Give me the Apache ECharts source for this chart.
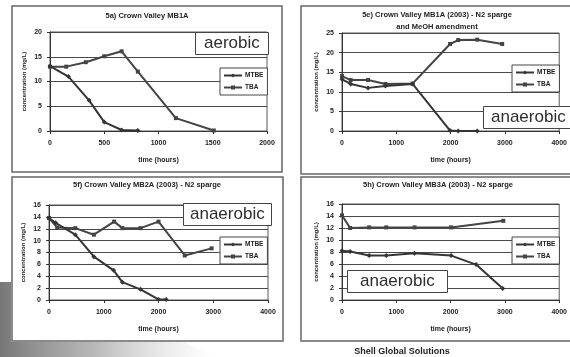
<!DOCTYPE html>
<html>
<head>
<meta charset="utf-8">
<script src="https://cdn.jsdelivr.net/npm/echarts@6/dist/echarts.min.js"></script>
<style>
  html, body { margin: 0; padding: 0; background: #ffffff; }
  #chart { width: 570px; height: 357px; }
</style>
</head>
<body>
<div id="chart"></div>
<script>
// 5a) Crown Valley MB1A (aerobic)
const p1MtbeHours = [0, 170, 360, 500, 660, 810];
const p1Mtbe      = [13.1, 11.0, 6.2, 1.8, 0.2, 0.1];
const p1TbaHours  = [0, 150, 330, 500, 660, 810, 1160, 1510];
const p1Tba       = [13.0, 13.0, 13.9, 15.1, 16.1, 12.0, 2.6, 0.1];

// 5e) Crown Valley MB1A (2003) - N2 sparge and MeOH amendment
const p2MtbeHours = [0, 160, 480, 800, 1300, 1990, 2140, 2490];
const p2Mtbe      = [13.2, 12.0, 11.0, 11.5, 12.0, 0.1, 0.0, 0.0];
const p2TbaHours  = [0, 160, 480, 800, 1300, 1990, 2140, 2490, 2950];
const p2Tba       = [14.0, 13.0, 13.0, 12.0, 12.1, 22.2, 23.2, 23.3, 22.2];

// 5f) Crown Valley MB2A (2003) - N2 sparge
const p3MtbeHours = [0, 120, 480, 820, 1180, 1340, 1670, 2000, 2140];
const p3Mtbe      = [13.8, 13.0, 11.0, 7.3, 5.0, 3.0, 1.8, 0.1, 0.1];
const p3TbaHours  = [0, 150, 480, 820, 1190, 1340, 1670, 2000, 2480, 2970];
const p3Tba       = [13.8, 12.2, 12.1, 11.0, 13.2, 12.1, 12.1, 13.2, 7.5, 8.7];

// 5h) Crown Valley MB3A (2003) - N2 sparge
const p4MtbeHours = [0, 150, 500, 815, 1335, 2010, 2470, 2960];
const p4Mtbe      = [8.2, 8.1, 7.4, 7.4, 7.8, 7.4, 5.9, 1.9];
const p4TbaHours  = [0, 150, 500, 815, 1335, 2010, 2970];
const p4Tba       = [14.1, 12.0, 12.1, 12.1, 12.1, 12.1, 13.2];

const panelTitles = [
  ['5a) Crown Valley MB1A'],
  ['5e) Crown Valley MB1A (2003) - N2 sparge', 'and MeOH amendment'],
  ['5f) Crown Valley MB2A (2003) - N2 sparge'],
  ['5h) Crown Valley MB3A (2003) - N2 sparge']
];
const conditionLabels = ['aerobic', 'anaerobic', 'anaerobic', 'anaerobic'];
const seriesNames = ['MTBE', 'TBA'];
const xTitle = 'time (hours)';
const yTitle = 'concentration (mg/L)';
const footer = 'Shell Global Solutions';

const FONT = '"Liberation Sans", Arial, sans-serif';
const INK = '#222222';
const LINE = '#353535';

function pairs(xs, ys) { return xs.map((x, i) => [x, ys[i]]); }

const panels = [
  { grid: { left: 50, top: 32, width: 217, height: 99 }, xMax: 2000, xInt: 500, yMax: 20, yInt: 5,
    mtbe: pairs(p1MtbeHours, p1Mtbe), tba: pairs(p1TbaHours, p1Tba),
    frame: [12, 6, 270, 166], titleX: 147, titleY: 16,
    legend: { left: 220, top: 68 }, box: { left: 195, top: 32, padding: [3, 9, 3, 9] } },
  { grid: { left: 342, top: 33, width: 220, height: 98 }, xMax: 4000, xInt: 1000, yMax: 25, yInt: 5,
    mtbe: pairs(p2MtbeHours, p2Mtbe), tba: pairs(p2TbaHours, p2Tba),
    frame: [301, 6, 275, 168], titleX: 437, titleY: 15,
    legend: { left: 512, top: 65 }, box: { left: 483, top: 106, padding: [3, 8, 3, 8] } },
  { grid: { left: 49, top: 205, width: 219, height: 95 }, xMax: 4000, xInt: 1000, yMax: 16, yInt: 2,
    mtbe: pairs(p3MtbeHours, p3Mtbe), tba: pairs(p3TbaHours, p3Tba),
    frame: [12, 177, 271, 164], titleX: 147, titleY: 185,
    legend: { left: 220, top: 237 }, box: { left: 183, top: 203, padding: [3, 7, 3, 7] } },
  { grid: { left: 342, top: 204, width: 220, height: 96 }, xMax: 4000, xInt: 1000, yMax: 16, yInt: 2,
    mtbe: pairs(p4MtbeHours, p4Mtbe), tba: pairs(p4TbaHours, p4Tba),
    frame: [301, 177, 275, 164], titleX: 438, titleY: 185,
    legend: { left: 512, top: 237 }, box: { left: 347, top: 270, padding: [3, 13, 3, 13] } }
];

const grids = [], xAxes = [], yAxes = [], series = [], legends = [], titles = [], graphics = [];

// grainy backdrop strip in the lower-left corner
graphics.push({
  type: 'polygon', silent: true, z: -10,
  shape: { points: [[0, 282], [11, 282], [11, 342], [185, 342], [215, 357], [0, 357]] },
  style: { fill: new echarts.graphic.LinearGradient(0, 0, 1, 0, [
    { offset: 0, color: 'rgba(95,95,95,0.85)' },
    { offset: 0.45, color: 'rgba(140,140,140,0.6)' },
    { offset: 1, color: 'rgba(200,200,200,0)' }
  ]) }
});

panels.forEach((p, i) => {
  grids.push(Object.assign({ show: true, borderColor: '#5a5a5a', borderWidth: 1, backgroundColor: '#ffffff' }, p.grid));
  xAxes.push({
    type: 'value', gridIndex: i, min: 0, max: p.xMax, interval: p.xInt,
    name: xTitle, nameLocation: 'middle', nameGap: 26,
    nameTextStyle: { fontFamily: FONT, fontSize: 7, fontWeight: 'bold', color: INK },
    axisLine: { show: true, lineStyle: { color: '#333' } },
    axisTick: { show: true, length: 3, lineStyle: { color: '#333' } },
    axisLabel: { fontFamily: FONT, fontSize: 7, fontWeight: 'bold', color: INK, margin: 9,
                 formatter: v => String(v) },
    splitLine: { show: false }
  });
  yAxes.push({
    type: 'value', gridIndex: i, min: 0, max: p.yMax, interval: p.yInt,
    name: yTitle, nameLocation: 'middle', nameGap: 23,
    nameTextStyle: { fontFamily: FONT, fontSize: 6, fontWeight: 'bold', color: INK },
    axisLine: { show: true, lineStyle: { color: '#333' } },
    axisTick: { show: true, length: 3, lineStyle: { color: '#333' } },
    axisLabel: { fontFamily: FONT, fontSize: 7, fontWeight: 'bold', color: INK, margin: 8 },
    splitLine: { show: true, lineStyle: { color: '#4a4a4a', width: 1.2 } }
  });
  series.push({
    name: seriesNames[0], type: 'line', xAxisIndex: i, yAxisIndex: i, data: p.mtbe,
    symbol: 'diamond', symbolSize: 5, lineStyle: { color: LINE, width: 2 },
    itemStyle: { color: LINE }, animation: false, z: 3
  });
  series.push({
    name: seriesNames[1], type: 'line', xAxisIndex: i, yAxisIndex: i, data: p.tba,
    symbol: 'rect', symbolSize: 4, lineStyle: { color: '#444', width: 2 },
    itemStyle: { color: '#444' }, animation: false, z: 2
  });
  legends.push({
    data: seriesNames, orient: 'vertical', left: p.legend.left, top: p.legend.top,
    itemWidth: 18, itemHeight: 5, itemGap: 5, padding: [4, 4, 4, 3],
    borderColor: '#444', borderWidth: 1, backgroundColor: '#ffffff',
    textStyle: { fontFamily: FONT, fontSize: 6.5, fontWeight: 'bold', color: INK, padding: [0, 0, 0, -2] },
    selectedMode: false
  });
  titles.push({
    text: conditionLabels[i], left: p.box.left, top: p.box.top, padding: p.box.padding,
    borderColor: '#444', borderWidth: 1, backgroundColor: '#ffffff',
    textStyle: { fontFamily: FONT, fontSize: 17, fontWeight: 'normal', color: '#2e2e2e' }, z: 10
  });
  // panel frame
  graphics.push({
    type: 'rect', silent: true, z: -5,
    shape: { x: p.frame[0], y: p.frame[1], width: p.frame[2], height: p.frame[3] },
    style: { fill: '#ffffff', stroke: '#666', lineWidth: 1.5 }
  });
  // panel heading
  panelTitles[i].forEach((line, k) => {
    graphics.push({
      type: 'text', silent: true, z: 5,
      x: p.titleX, y: p.titleY + k * 12,
      style: { text: line, fontFamily: FONT, fontSize: 7.5, fontWeight: 'bold', fill: INK,
               align: 'center', verticalAlign: 'middle' }
    });
  });
});

graphics.push({
  type: 'text', silent: true, z: 5, x: 402, y: 352,
  style: { text: footer, fontFamily: FONT, fontSize: 9, fontWeight: 'bold', fill: '#222',
           align: 'center', verticalAlign: 'middle' }
});

const chart = echarts.init(document.getElementById('chart'), null, { renderer: 'canvas' });
chart.setOption({
  backgroundColor: '#ffffff',
  animation: false,
  title: titles,
  legend: legends,
  grid: grids,
  xAxis: xAxes,
  yAxis: yAxes,
  series: series,
  graphic: graphics
});
</script>
</body>
</html>
